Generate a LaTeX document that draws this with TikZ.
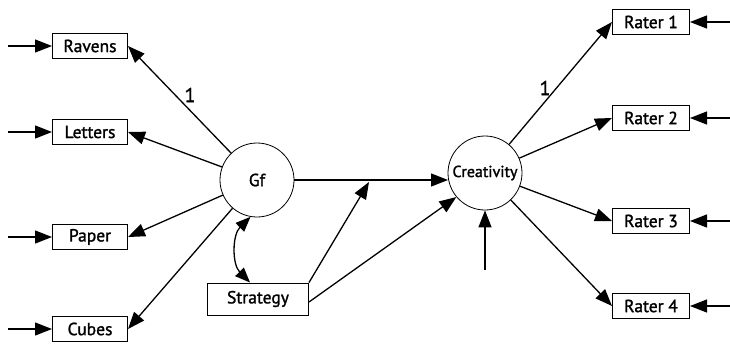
\documentclass[tikz,border=0pt]{standalone}
\usepackage{fontspec}
\setmainfont{PT Sans}
\newfontfamily\medfont{PT Sans}[FakeBold=1.5]
\usetikzlibrary{arrows.meta}
\tikzset{
  obs/.style={draw, line width=1pt, minimum width=75pt, minimum height=25pt, inner sep=0pt, font=\medfont\fontsize{17.5}{19}\selectfont},
  lat/.style={draw, circle, line width=0.8pt, minimum size=74pt, inner sep=0pt},
  conn/.style={line width=1.3pt, -{Triangle[length=17pt,width=13pt]}},
  dconn/.style={line width=1.3pt, {Triangle[length=15pt,width=12pt]}-{Triangle[length=15pt,width=12pt]}},
  lbl/.style={font=\medfont\fontsize{20}{22}\selectfont}
}
\begin{document}
\begin{tikzpicture}[x=1pt,y=-1pt]
\useasboundingbox (0,0) rectangle (730,346);
% latent
\node[lat, font=\medfont\fontsize{17.5}{19}\selectfont] (gf) at (257,180) {Gf};
\node[lat, font=\medfont\fontsize{16}{17}\selectfont] (cr) at (485,173) {Creativity};
% left indicators
\node[obs] (rav) at (90,46) {Ravens};
\node[obs] (let) at (90,132) {Letters};
\node[obs] (pap) at (90,237) {Paper};
\node[obs] (cub) at (90,329) {Cubes};
% right indicators
\node[obs, minimum width=77pt] (r1) at (651,22) {Rater 1};
\node[obs, minimum width=77pt] (r2) at (651,118) {Rater 2};
\node[obs, minimum width=77pt] (r3) at (651,221) {Rater 3};
\node[obs, minimum width=77pt] (r4) at (651,306) {Rater 4};
% strategy
\node[obs, minimum width=101pt, minimum height=32pt] (st) at (258,299) {Strategy};
% error inputs
\coordinate (erav) at (8,46);
\coordinate (elet) at (8,132);
\coordinate (epap) at (8,237);
\coordinate (ecub) at (8,329);
\coordinate (er1) at (730,22);
\coordinate (er2) at (730,118);
\coordinate (er3) at (730,221);
\coordinate (er4) at (730,306);
\coordinate (ecr) at (485,270);
\foreach \a/\b in {erav/rav, elet/let, epap/pap, ecub/cub, er1/r1, er2/r2, er3/r3, er4/r4, ecr/cr}
  \draw[conn] (\a) -- (\b);
% loadings
\draw[conn] (gf) -- (rav.east);
\draw[conn] (gf) -- (let.east);
\draw[conn] (gf) -- (pap.east);
\draw[conn] (gf) -- (cub.east);
\draw[conn] (cr) -- (r1.west);
\draw[conn] (cr) -- (r2.west);
\draw[conn] (cr) -- (r3.west);
\draw[conn] (cr) -- (r4.west);
\node[lbl] (l1) at (190,95) {1};
\node[lbl] (l2) at (545,88) {1};
% structural
\coordinate (gfr) at (294,180);
\coordinate (crl) at (448,180);
\coordinate (mod) at (369,182);
\draw[conn] (gfr) -- (crl);
\draw[conn] (st.north east) -- (mod);
\draw[conn] ([yshift=-3pt]st.east) -- (cr.-140);
\draw[dconn] (gf.-100) to[bend right=45] ([xshift=-8pt]st.north);
\end{tikzpicture}
\end{document}
